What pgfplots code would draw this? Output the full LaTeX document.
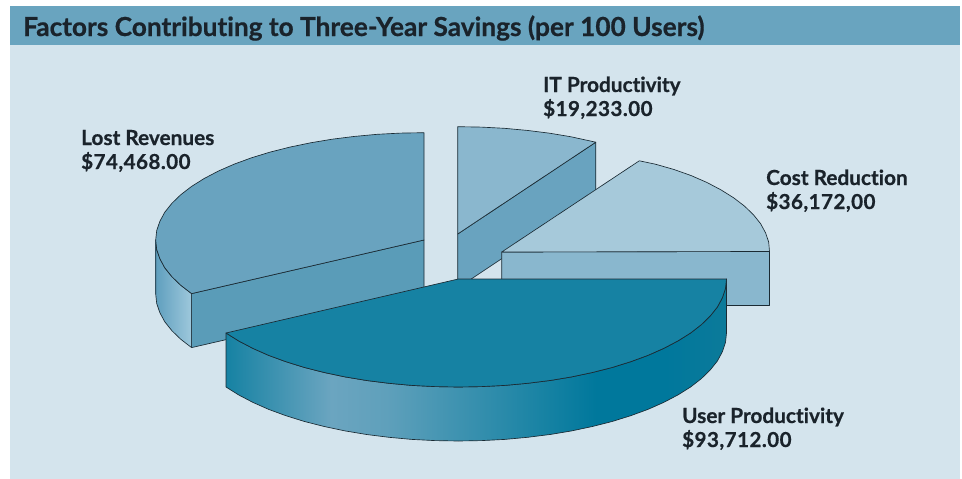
\documentclass[border=0pt]{standalone}
\usepackage{fontspec}
\setmainfont{Lato}[Ligatures={NoCommon},BoldFeatures={FakeBold=0.6}]
\usepackage{pgfplots}
\pgfplotsset{compat=1.18}
\definecolor{panel}{HTML}{D4E4ED}
\definecolor{head}{HTML}{69A4BF}
\definecolor{lrtop}{HTML}{69A3BF}
\definecolor{lrfront}{HTML}{5A9CB8}
\definecolor{ittop}{HTML}{8AB7CE}
\definecolor{itside}{HTML}{69A3BF}
\definecolor{crtop}{HTML}{A6C9DA}
\definecolor{crfront}{HTML}{89B7CE}
\definecolor{uptop}{HTML}{1682A3}
\definecolor{ink}{HTML}{1A2A33}
\definecolor{txt}{HTML}{1A232B}
\pgfdeclarehorizontalshading{upside}{100bp}{
 color(0bp)=(uptop);
 color(25bp)=(uptop);
 color(35.5bp)=(rgb,255:red,107;green,165;blue,192);
 color(41bp)=(rgb,255:red,95;green,160;blue,187);
 color(57bp)=(uptop);
 color(62bp)=(rgb,255:red,0;green,120;blue,156);
 color(69bp)=(rgb,255:red,0;green,120;blue,156);
 color(75bp)=(rgb,255:red,12;green,122;blue,154);
 color(100bp)=(rgb,255:red,12;green,122;blue,154)}
\pgfdeclarehorizontalshading{lrside}{100bp}{
 color(0bp)=(rgb,255:red,95;green,159;blue,190);
 color(25bp)=(rgb,255:red,95;green,159;blue,190);
 color(75bp)=(rgb,255:red,158;green,200;blue,220);
 color(100bp)=(rgb,255:red,158;green,200;blue,220)}
\newcommand{\lab}[3]{\node[anchor=base west,text=txt,font=\fontsize{20.8}{24}\selectfont\bfseries,inner sep=0pt] at (axis cs:#1,#2) {#3};}
\newcommand{\amt}[3]{\node[anchor=base west,text=txt,font=\fontsize{20.6}{24}\selectfont\bfseries\addfontfeatures{LetterSpace=2.2},inner sep=0pt] at (axis cs:#1,#2) {#3};}
\begin{document}
\begin{tikzpicture}
\begin{axis}[scale only axis,width=962pt,height=479pt,xmin=0,xmax=962,ymin=0,ymax=479,y dir=reverse,hide axis,clip=true,
  every axis plot/.append style={no markers,line join=round}]
\addplot[fill=white,draw=none] coordinates {(0,0)(962,0)(962,479)(0,479)} --cycle;
\addplot[fill=panel,draw=none] coordinates {(10,6)(960,6)(960,479)(10,479)} --cycle;
\addplot[fill=head,draw=none] coordinates {(10,6)(960,6)(960,45)(10,45)} --cycle;
% Lost Revenues
\addplot[shading=lrside,draw=ink,line width=.65pt] coordinates {(155.7,240)(156.7,249.4)(159.8,258.6)(164.8,267.8)(171.9,276.7)(180.8,285.3)(191.6,293.6)(191.6,347.6)(180.8,339.3)(171.9,330.7)(164.8,321.8)(159.8,312.6)(156.7,303.4)(155.7,294)} --cycle;
\addplot[fill=lrfront,draw=ink,line width=.65pt] coordinates {(191.6,293.6)(424,240)(424,294)(191.6,347.6)} --cycle;
\addplot[fill=lrtop,draw=ink,line width=.65pt] coordinates {(424,240)(424,132.7)(400.6,133.1)(377.4,134.3)(354.6,136.4)(332.2,139.2)(310.6,142.8)(289.9,147.1)(270.1,152.1)(251.5,157.8)(234.3,164.1)(218.5,171)(204.2,178.5)(191.6,186.4)(180.8,194.7)(171.9,203.3)(164.8,212.2)(159.8,221.4)(156.7,230.6)(155.7,240)(156.7,249.4)(159.8,258.6)(164.8,267.8)(171.9,276.7)(180.8,285.3)(191.6,293.6)} --cycle;
% IT Productivity
\addplot[fill=itside,draw=ink,line width=.65pt] coordinates {(457.7,234)(595.8,142.2)(595.8,196)(457.7,288)} --cycle;
\addplot[fill=ittop,draw=ink,line width=.65pt] coordinates {(457.7,234)(457.7,126.7)(481.1,127.1)(504.3,128.3)(527.1,130.4)(549.5,133.2)(571.1,136.8)(595.8,142.2)} --cycle;
% Cost Reduction
\addplot[fill=crfront,draw=ink,line width=.65pt] coordinates {(501.7,252)(769.5,251.5)(769.5,305.5)(501.7,305.5)} --cycle;
\addplot[fill=crtop,draw=ink,line width=.65pt] coordinates {(501.7,252)(639.3,160.8)(655.4,164.2)(674,169.5)(691.2,175.6)(707,182.5)(721.2,190)(733.8,197.9)(744.6,206.2)(753.5,214.8)(760.6,223.7)(765.6,232.9)(768.7,242.1)(769.5,251.5)} --cycle;
% User Productivity
\addplot[shading=upside,draw=ink,line width=.65pt] coordinates {(726.5,279)(725.5,288.4)(722.4,297.7)(717.4,307)(710.3,315.9)(701.4,324.6)(690.6,333)(678,340.9)(663.7,348.4)(647.9,355.4)(630.7,361.7)(612.1,367.5)(592.4,372.5)(571.6,376.9)(550,380.5)(527.7,383.3)(504.9,385.4)(481.7,386.6)(458.3,387)(434.9,386.6)(411.7,385.4)(388.9,383.3)(366.6,380.5)(345,376.9)(324.2,372.5)(304.5,367.5)(285.9,361.7)(268.7,355.4)(252.9,348.4)(238.6,340.9)(226,333)
 (226,387)(238.6,394.9)(252.9,402.4)(268.7,409.4)(285.9,415.7)(304.5,421.5)(324.2,426.5)(345,430.9)(366.6,434.5)(388.9,437.3)(411.7,439.4)(434.9,440.6)(458.3,441)(481.7,440.6)(504.9,439.4)(527.7,437.3)(550,434.5)(571.6,430.9)(592.4,426.5)(612.1,421.5)(630.7,415.7)(647.9,409.4)(663.7,402.4)(678,394.9)(690.6,387)(701.4,378.6)(710.3,369.9)(717.4,361)(722.4,351.7)(725.5,342.4)(726.5,333)} --cycle;
\addplot[fill=uptop,draw=ink,line width=.65pt] coordinates {(458.3,279)(726.5,279)(725.5,288.4)(722.4,297.7)(717.4,307)(710.3,315.9)(701.4,324.6)(690.6,333)(678,340.9)(663.7,348.4)(647.9,355.4)(630.7,361.7)(612.1,367.5)(592.4,372.5)(571.6,376.9)(550,380.5)(527.7,383.3)(504.9,385.4)(481.7,386.6)(458.3,387)(434.9,386.6)(411.7,385.4)(388.9,383.3)(366.6,380.5)(345,376.9)(324.2,372.5)(304.5,367.5)(285.9,361.7)(268.7,355.4)(252.9,348.4)(238.6,340.9)(226,333)} --cycle;
% Text
\node[anchor=base west,text=txt,font=\fontsize{26.25}{30}\selectfont\bfseries,inner sep=0pt] at (axis cs:23,36) {Factors Contributing to Three-Year Savings (per 100 Users)};
\lab{81}{145}{Lost Revenues}
\amt{81}{169}{\$74,468.00}
\lab{543}{92}{IT Productivity}
\amt{543}{116}{\$19,233.00}
\lab{766}{185}{Cost Reduction}
\amt{766}{209}{\$36,172,00}
\lab{682}{423}{User Productivity}
\amt{682}{447}{\$93,712.00}
\end{axis}
\end{tikzpicture}
\end{document}
